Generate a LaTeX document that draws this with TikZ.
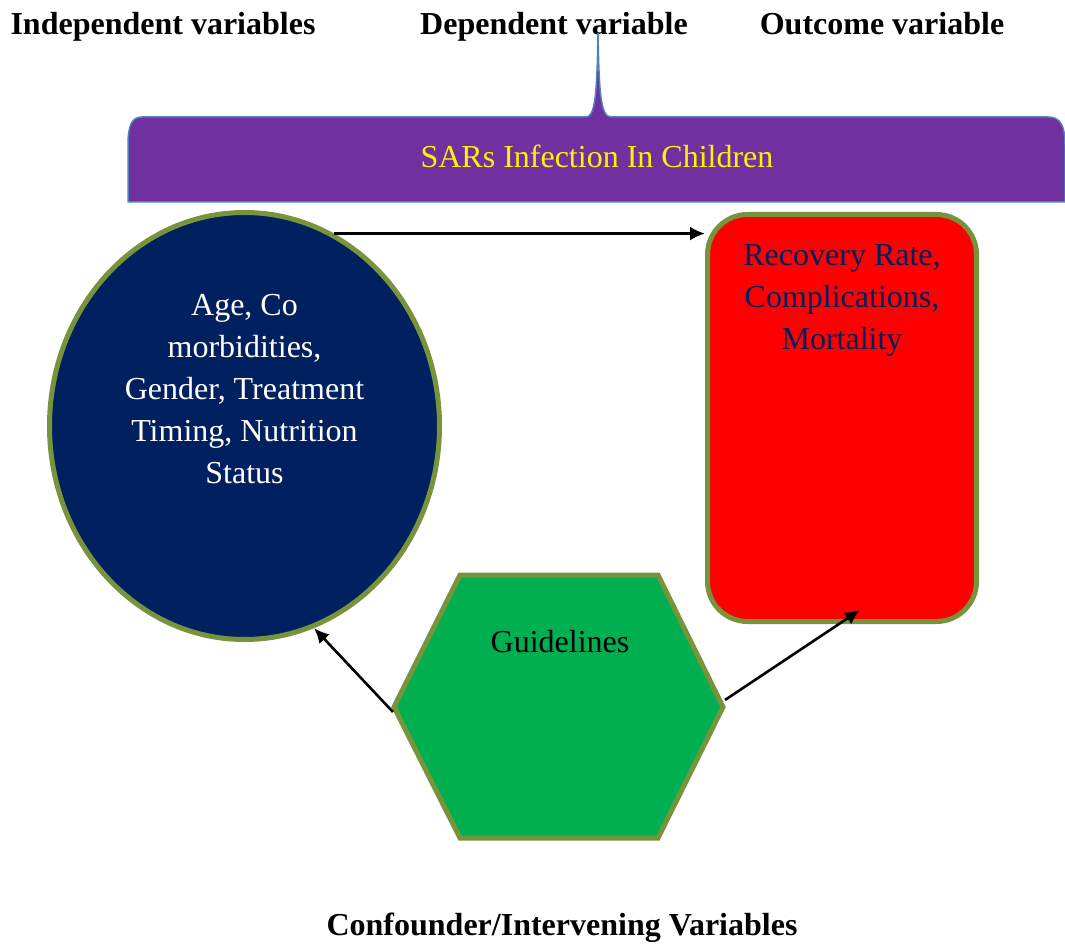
\documentclass[tikz,border=0pt]{standalone}
\usepackage{fontspec}
\setmainfont{Liberation Serif}
\usetikzlibrary{shapes.geometric,arrows.meta}
\definecolor{bordergreen}{HTML}{77933C}
\definecolor{darkblue}{HTML}{002060}
\definecolor{bannerpurple}{HTML}{7030A0}
\definecolor{bannerblue}{HTML}{4F81BD}
\definecolor{hexgreen}{HTML}{00B050}

\begin{document}
\begin{tikzpicture}[x=.5pt, y=-.5pt, font=\fontsize{16}{21}\selectfont,
		arr/.style={-{Latex[length=7.5pt,width=7pt]}, line width=1.3pt},
		head/.style={font=\fontsize{16}{21}\selectfont\bfseries, anchor=base},
		rim/.style={draw=bordergreen, line width=2.5pt}]
				\useasboundingbox (0,0) rectangle (1065,946);
				\node[head] (indephead) at (163,35) {Independent variables};
				\node[head] (dephead) at (554,35) {Dependent variable};
				\node[head] (outhead) at (882,35) {Outcome variable};
				\draw[draw=bannerblue, line width=.75pt, fill=bannerpurple] (128,202) -- (128,145)
					.. controls (128,125) and (132,117) .. (142,117) -- (586,117)
					.. controls (595,117) and (597,95) .. (598,33)
					.. controls (599,95) and (601,117) .. (611,117) -- (1048,117)
					.. controls (1060,117) and (1065,125) .. (1065,145) -- (1065,202) -- cycle;
				\node[text=yellow] (dep) at (597,156) {SARs Infection In Children};
				\node[rim, fill=darkblue, ellipse, minimum width=195pt, minimum height=213.5pt] (indep) at (244.5,426) {};
				\node[text=white, align=center] (indeptext) at (244.5,389) {Age, Co\\morbidities,\\Gender, Treatment\\Timing, Nutrition\\Status};
				\node[rim, fill=red, rounded corners=20pt, minimum width=134.5pt, minimum height=203.5pt] (outcome) at (842,418) {};
				\node[text=darkblue, align=center] (outcometext) at (842,300) {Recovery Rate,\\Complications,\\Mortality};
				\draw[rim, fill=hexgreen] (460,575) -- (658,575) -- (723,707) -- (658,838) -- (460,838) -- (394,707) -- cycle;
				\coordinate (guideW) at (393,712);
				\coordinate (guideE) at (725,700);
				\node (guide) at (560,642) {Guidelines};
				\draw[arr] (indep.65) -- (indep.65 -| outcome.west);
				\draw[arr] (guideW) -- (indep.-71);
				\draw[arr] (guideE) -- ([xshift=9pt,yshift=7pt]outcome.south);
				\node[head] (confhead) at (562,935) {Confounder/Intervening Variables};
			\end{tikzpicture}
\end{document}
